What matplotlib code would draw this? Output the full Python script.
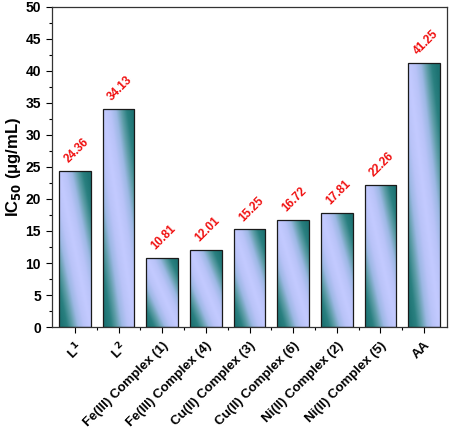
import numpy as np
import matplotlib
matplotlib.use('Agg')
from matplotlib import pyplot as plt
from matplotlib.colors import LinearSegmentedColormap
from matplotlib.ticker import MultipleLocator

plt.rcParams['font.family'] = ['Liberation Sans', 'DejaVu Sans']
plt.rcParams['font.weight'] = 'bold'

labels = ['L$^1$', 'L$^2$', 'Fe(III) Complex (1)', 'Fe(III) Complex (4)',
          'Cu(II) Complex (3)', 'Cu(II) Complex (6)', 'Ni(II) Complex (2)',
          'Ni(II) Complex (5)', 'AA']
ic50 = [24.36, 34.13, 10.81, 12.01, 15.25, 16.72, 17.81, 22.26, 41.25]
value_text = ['24.36', '34.13', '10.81', '12.01', '15.25', '16.72', '17.81', '22.26', '41.25']

fig = plt.figure(figsize=(4.5, 4.32), dpi=100)
ax = fig.add_axes([0.116, 0.243, 0.877, 0.741])

x = np.arange(len(ic50))
width = 0.72
bars = ax.bar(x, ic50, width, color='none', edgecolor='#1a1a1a', linewidth=0.9, zorder=3)

# diagonal gradient inside each bar (light band top-left -> bottom-right)
cmap = LinearSegmentedColormap.from_list(
    'grad', ['#c3caff', '#b9c3f8', '#9db8e4', '#5f9ea9', '#2a8080', '#1d7373'])
gx = np.linspace(0, 1, 60)
gt = np.linspace(0, 1, 200)
GX, GT = np.meshgrid(gx, gt)
shade = np.clip(np.abs(GX - GT) * 1.1, 0, 1) ** 1.1
for b in bars:
    x0, y0 = b.get_x(), b.get_y()
    w, h = b.get_width(), b.get_height()
    im = ax.imshow(shade, cmap=cmap, vmin=0, vmax=1, aspect='auto',
                   extent=(x0, x0 + w, y0, y0 + h), origin='upper', zorder=2,
                   interpolation='bilinear')
    im.set_clip_path(b)

# value labels
for xi, v, t in zip(x, ic50, value_text):
    ax.text(xi - 0.1, v + 0.9, t, color='#f01010', fontsize=8.5, fontweight='bold',
            rotation=45, ha='left', va='bottom', rotation_mode='anchor')

ax.set_xlim(-0.52, 8.52)
ax.set_ylim(0, 50)
ax.yaxis.set_major_locator(MultipleLocator(5))
ax.yaxis.set_minor_locator(MultipleLocator(2.5))
ax.set_xticks(x)
ax.set_xticks(x[:-1] + 0.5, minor=True)
ax.set_xticklabels(labels, rotation=45, ha='right', rotation_mode='anchor', fontsize=9.5)
ax.tick_params(axis='both', direction='out', length=4, width=0.8)
ax.tick_params(axis='both', which='minor', direction='out', length=2.5, width=0.8)
ax.tick_params(axis='y', labelsize=10, pad=4)
ax.tick_params(axis='x', labelsize=9.5, pad=5)
ax.set_ylabel('IC$_{50}$ (μg/mL)', fontsize=12, fontweight='bold', labelpad=2)
for s in ax.spines.values():
    s.set_linewidth(0.9)
    s.set_color('#333333')

fig.savefig('out.png', dpi=100)
